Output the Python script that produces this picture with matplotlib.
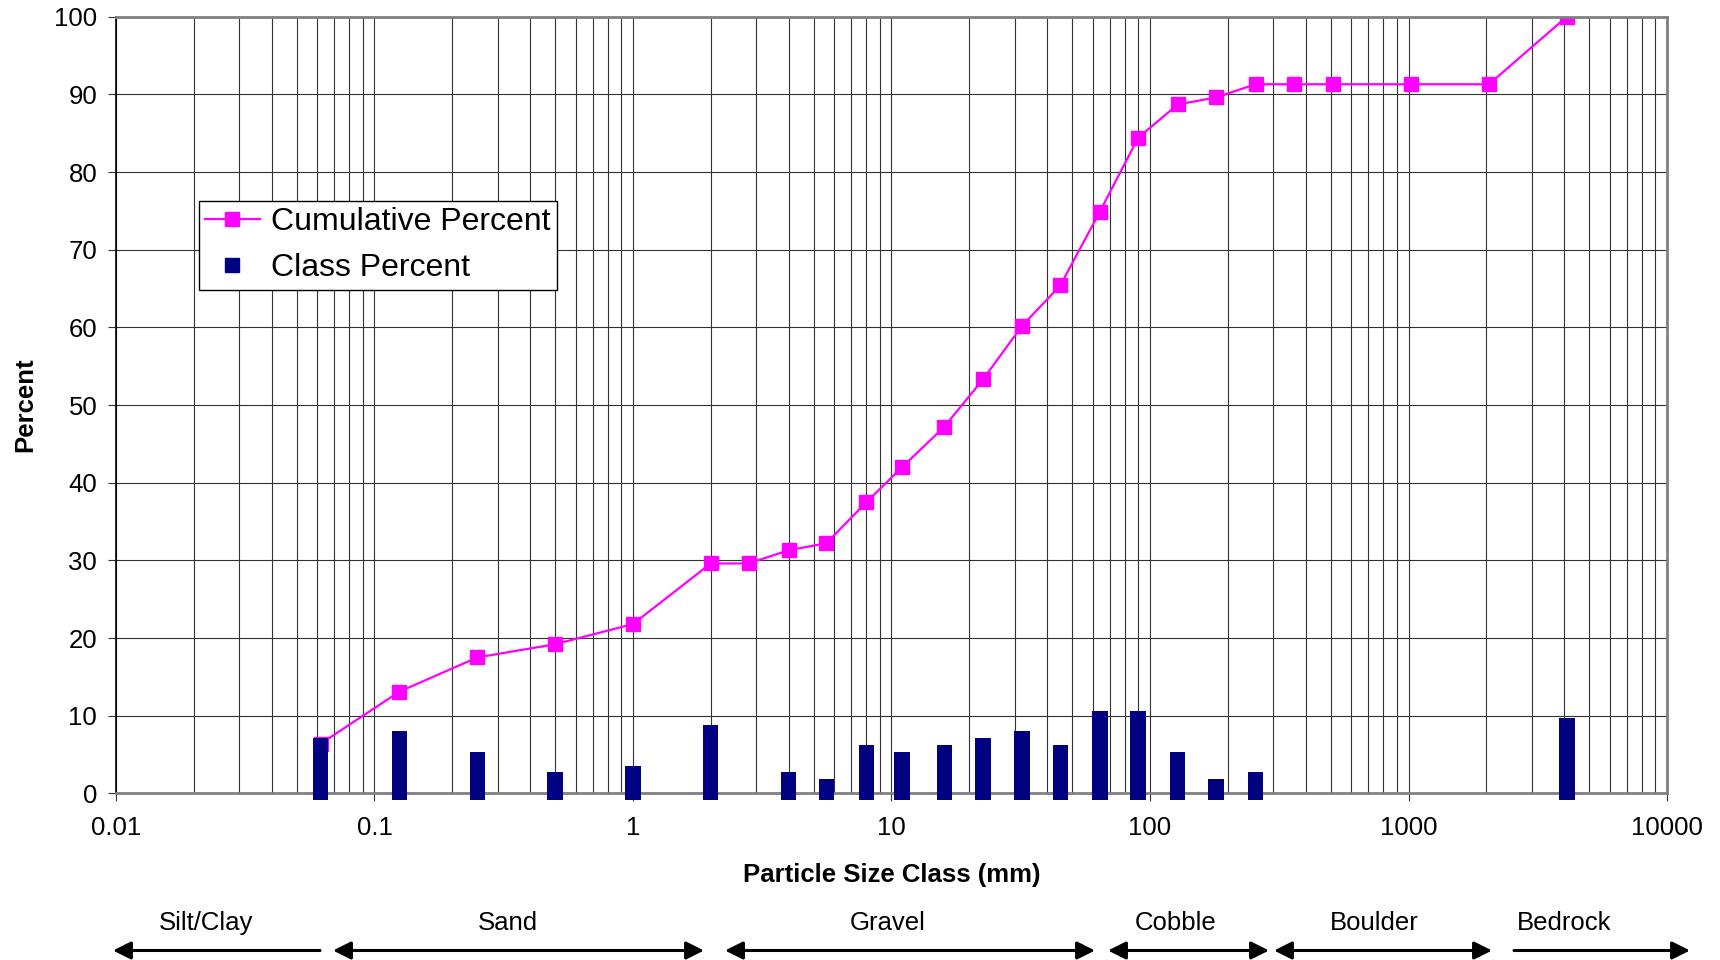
import numpy as np
import matplotlib
matplotlib.use("Agg")
import matplotlib.pyplot as plt
from matplotlib.lines import Line2D
from matplotlib.ticker import LogLocator, FixedLocator, NullFormatter

plt.rcParams['font.family'] = ['Liberation Sans', 'DejaVu Sans']

# particle size classes (mm) and percentages
sizes = [0.062, 0.125, 0.25, 0.5, 1, 2, 2.8, 4, 5.6, 8, 11, 16, 22.6, 32, 45,
         64, 90, 128, 180, 256, 362, 512, 1024, 2048, 4096]
cumulative = [6.4, 13.1, 17.5, 19.2, 21.8, 29.6, 29.6, 31.3, 32.2, 37.5, 42.0,
              47.2, 53.3, 60.2, 65.4, 74.9, 84.4, 88.7, 89.6, 91.3, 91.3, 91.3,
              91.3, 91.3, 100.0]
class_pct = [7.1, 8.0, 5.3, 2.7, 3.5, 8.8, 0, 2.7, 1.8, 6.2, 5.3, 6.2, 7.1, 8.0,
             6.2, 10.6, 10.6, 5.3, 1.8, 2.7, 0, 0, 0, 0, 9.7]

x_ticks = [0.01, 0.1, 1, 10, 100, 1000, 10000]
x_ticklabels = ['0.01', '0.1', '1', '10', '100', '1000', '10000']

# substrate categories shown under the axis
categories = ['Silt/Clay', 'Sand', 'Gravel', 'Cobble', 'Boulder', 'Bedrock']

fig = plt.figure(figsize=(17.2, 9.6), dpi=100)
ax = fig.add_axes([0.0674, 0.1736, 0.9018, 0.8090])

x = np.array(sizes, dtype=float)
h = np.array(class_pct, dtype=float)
# constant pixel-width bars on a log axis
f = 10 ** 0.0298
keep = h > 0
bar_bottom = -0.9
ax.bar(x[keep] / f, h[keep] - bar_bottom, width=x[keep] * f - x[keep] / f,
       bottom=bar_bottom, align='edge', color='#000080', zorder=3,
       clip_on=False)
ax.plot(x, cumulative, color='#FF00FF', lw=1.6, marker='s', markersize=10.5,
        zorder=2.5)

ax.set_xscale('log')
ax.set_xlim(0.01, 10000)
ax.set_ylim(0, 100)
ax.set_yticks(np.arange(0, 101, 10))
ax.xaxis.set_major_locator(FixedLocator(x_ticks))
ax.xaxis.set_minor_locator(LogLocator(base=10, subs=np.arange(2, 10), numticks=100))
ax.xaxis.set_minor_formatter(NullFormatter())
ax.set_xticklabels(x_ticklabels)

ax.grid(True, which='both', axis='x', color='#333333', lw=0.8, zorder=0)
ax.grid(True, which='major', axis='y', color='#333333', lw=0.8, zorder=0)

ax.tick_params(axis='both', which='major', direction='out', length=5.5,
               width=0.8, labelsize=18.5, color='#333333')
ax.tick_params(axis='x', which='major', pad=11)
ax.tick_params(axis='y', which='major', pad=8)
ax.tick_params(axis='x', which='minor', length=0)

for side in ['top', 'right', 'bottom']:
    ax.spines[side].set_color('#808080')
    ax.spines[side].set_linewidth(2)
ax.spines['left'].set_color('black')
ax.spines['left'].set_linewidth(1.2)

ax.set_xlabel('Particle Size Class (mm)', fontsize=18.5, fontweight='bold', va='center')
ax.xaxis.set_label_coords(0.5, -0.105)
ax.set_ylabel('Percent', fontsize=18.5, fontweight='bold', va='center')
ax.yaxis.set_label_coords(-0.0587, 0.5)

handles = [Line2D([], [], color='#FF00FF', lw=1.6, marker='s', markersize=10.5),
           Line2D([], [], ls='none', color='#000080', marker='s', markersize=10)]
leg = ax.legend(handles, ['Cumulative Percent', 'Class Percent'], loc='upper left',
                bbox_to_anchor=(0.0535, 0.763), borderaxespad=0, fontsize=23,
                frameon=True, fancybox=False, edgecolor='black',
                handlelength=1.7, handletextpad=0.35, labelspacing=0.5,
                borderpad=0.2, framealpha=1)
leg.get_frame().set_linewidth(1.0)
leg.set_zorder(5)

# category arrows below the axis (figure pixels)
arrow_spans = [(113, 320, '<|-'), (333, 704, '<|-|>'), (725, 1095, '<|-|>'),
               (1108, 1269, '<|-|>'), (1274, 1492, '<|-|>'), (1514, 1690, '-|>')]
label_x = [206, 508, 888, 1176, 1374, 1564]
arrow_y = 960 - 950.5
text_y = 960 - 923
for name, (x0, x1, style), lx in zip(categories, arrow_spans, label_x):
    ax.annotate('', xy=(x1, arrow_y), xytext=(x0, arrow_y),
                xycoords='figure pixels', textcoords='figure pixels',
                annotation_clip=False,
                arrowprops=dict(arrowstyle=style + ',head_length=0.6,head_width=0.3',
                                mutation_scale=18, color='black', lw=2.2,
                                shrinkA=0, shrinkB=0))
    fig.text(lx / 1720, text_y / 960, name, fontsize=18.5, ha='center', va='center')

fig.savefig('out.png', dpi=100)
